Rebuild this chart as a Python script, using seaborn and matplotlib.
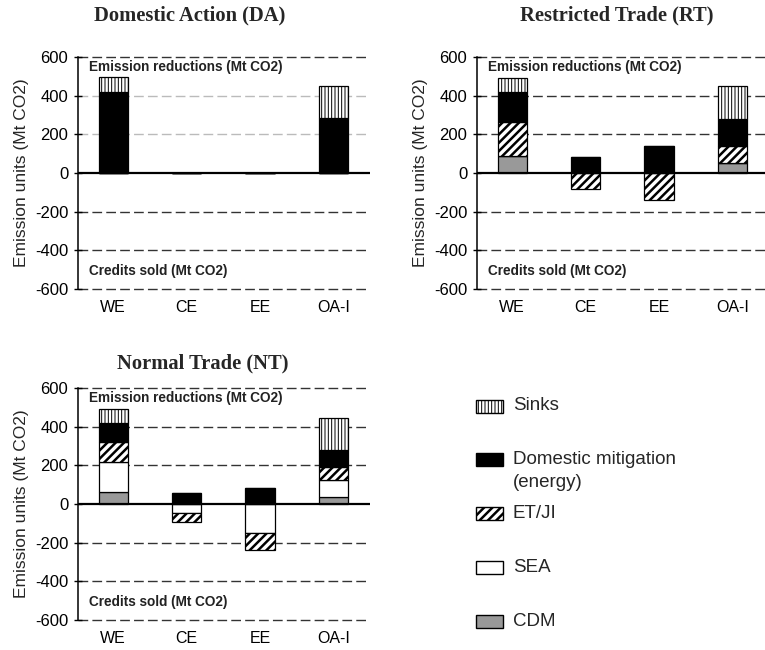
import numpy as np
import seaborn as sns
import matplotlib.pyplot as plt
from matplotlib.patches import Rectangle
from matplotlib.transforms import blended_transform_factory

regions = ["WE", "CE", "EE", "OA-I"]

# Mt CO2 by component, negative = credits sold
da_cdm = [0, 0, 0, 0]
da_sea = [0, 0, 0, 0]
da_etji = [0, 0, 0, 0]
da_domestic = [420, 0, 0, 285]
da_sinks = [75, 0, 0, 165]

rt_cdm = [90, 0, 0, 50]
rt_sea = [0, 0, 0, 0]
rt_etji = [172, -85, -140, 91]
rt_domestic = [158, 85, 140, 137]
rt_sinks = [73, 0, 0, 172]

nt_cdm = [60, 0, 0, 37]
nt_sea = [158, -46, -148, 88]
nt_etji = [102, -48, -91, 65]
nt_domestic = [100, 55, 85, 90]
nt_sinks = [72, 0, 0, 163]

components = ["CDM", "SEA", "ET/JI", "Domestic", "Sinks"]
legend_order = ["Sinks", "Domestic", "ET/JI", "SEA", "CDM"]
legend_text = {"Sinks": "Sinks", "Domestic": "Domestic mitigation",
               "ET/JI": "ET/JI", "SEA": "SEA", "CDM": "CDM"}

styles = {
    "CDM": dict(color="#999999", hatch=None, hlw=1.0),
    "SEA": dict(color="white", hatch=None, hlw=1.0),
    "ET/JI": dict(color="white", hatch="////", hlw=1.8),
    "Domestic": dict(color="black", hatch=None, hlw=1.0),
    "Sinks": dict(color="white", hatch="|||||", hlw=0.7),
}

sns.set_style("white")
plt.rcParams["font.family"] = ["Liberation Sans", "DejaVu Sans"]
plt.rcParams["hatch.color"] = "black"
plt.rcParams["axes.unicode_minus"] = False

W, H = 765, 650
fig = plt.figure(figsize=(W / 100, H / 100), dpi=100)


def stacked(ax, series):
    pos = np.zeros(len(regions))
    neg = np.zeros(len(regions))
    for name, vals in zip(components, series):
        vals = np.array(vals, dtype=float)
        bottom = np.where(vals >= 0, pos, neg)
        st = styles[name]
        plt.rcParams["hatch.linewidth"] = st["hlw"]
        n0 = len(ax.patches)
        sns.barplot(x=regions, y=vals, order=regions, bottom=bottom, width=0.4,
                    color=st["color"], saturation=1, hatch=st["hatch"],
                    edgecolor="black", linewidth=0.9, errorbar=None, ax=ax)
        for p in ax.patches[n0:]:
            if hasattr(p, "set_hatch_linewidth"):
                p.set_hatch_linewidth(st["hlw"])
        pos += np.clip(vals, 0, None)
        neg += np.clip(vals, None, 0)


def style_axes(ax, light=()):
    ax.set_ylim(-620, 620)
    ax.set_xlim(-0.48, 3.5)
    ax.set_yticks(range(-600, 601, 200))
    for y in [-600, -400, -200, 200, 400, 600]:
        c = "#bbbbbb" if y in light else "#333333"
        ax.axhline(y, color=c, ls=(0, (7, 3)), lw=1.0, zorder=0.5)
    ax.axhline(0, color="black", lw=1.6, zorder=3)
    for s in ["top", "right", "bottom"]:
        ax.spines[s].set_visible(False)
    ax.spines["left"].set_bounds(-600, 600)
    ax.spines["left"].set_color("black")
    ax.spines["left"].set_linewidth(1.1)
    ax.tick_params(axis="y", left=True, length=6, width=1, direction="inout",
                   pad=4, labelsize=12, colors="black")
    ax.tick_params(axis="x", length=0, pad=5, labelsize=11.5, colors="black")
    ax.set_ylabel("Emission units (Mt CO2)", fontsize=12.5, labelpad=4)
    ax.set_xlabel("")
    tr = blended_transform_factory(ax.transAxes, ax.transData)
    ax.text(0.038, 548, "Emission reductions (Mt CO2)", transform=tr,
            fontsize=9.8, fontweight="bold", va="center", color="#222222")
    ax.text(0.038, -505, "Credits sold (Mt CO2)", transform=tr,
            fontsize=9.8, fontweight="bold", va="center", color="#222222")


panels = [
    ("Domestic Action (DA)", [da_cdm, da_sea, da_etji, da_domestic, da_sinks],
     [78, 53], (190, 15), (200, 400)),
    ("Restricted Trade (RT)", [rt_cdm, rt_sea, rt_etji, rt_domestic, rt_sinks],
     [477, 53], (617, 15), ()),
    ("Normal Trade (NT)", [nt_cdm, nt_sea, nt_etji, nt_domestic, nt_sinks],
     [78, 384], (203, 363), ()),
]

for title, series, (left, top), (tx, ty), light in panels:
    ax = fig.add_axes([left / W, 1 - (top + 240) / H, 292 / W, 240 / H])
    stacked(ax, series)
    style_axes(ax, light)
    fig.text(tx / W, 1 - ty / H, title, ha="center", va="center",
             family=["Liberation Serif", "DejaVu Serif"], fontweight="bold",
             fontsize=14.8)

# legend
y0, step = 406, 53.8
for i, name in enumerate(legend_order):
    st = styles[name]
    yc = y0 + i * step
    plt.rcParams["hatch.linewidth"] = st["hlw"]
    r = Rectangle((476 / W, 1 - (yc + 6.5) / H), 27 / W, 13 / H,
                  transform=fig.transFigure, facecolor=st["color"],
                  edgecolor="black", hatch=st["hatch"], lw=1.0)
    if hasattr(r, "set_hatch_linewidth"):
        r.set_hatch_linewidth(st["hlw"])
    fig.add_artist(r)
    fig.text(513 / W, 1 - yc / H, legend_text[name], fontsize=13.5,
             va="center", ha="left")
    if name == "Domestic":
        fig.text(513 / W, 1 - (yc + 23) / H, "(energy)", fontsize=13.5,
                 va="center", ha="left")

fig.savefig("out.png", dpi=100)
